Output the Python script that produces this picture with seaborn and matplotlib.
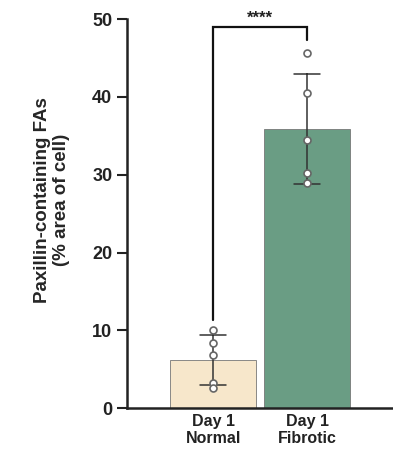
import pandas as pd
import numpy as np
import matplotlib
matplotlib.use('Agg')
import matplotlib.pyplot as plt
import seaborn as sns

# Values (per-cell points)
normal_vals = [10.0, 8.4, 6.8, 3.2, 2.6]
fibrotic_vals = [45.6, 40.5, 34.4, 30.2, 28.9]
groups = ['Day 1\nNormal', 'Day 1\nFibrotic']
bar_colors = ['#f7e7cb', '#6a9d84']
yticks = [0, 10, 20, 30, 40, 50]
sig_label = '****'

df = pd.DataFrame({
    'group': [groups[0]] * len(normal_vals) + [groups[1]] * len(fibrotic_vals),
    'value': normal_vals + fibrotic_vals,
})

sns.set_style('ticks')
plt.rcParams['font.family'] = ['Liberation Sans', 'DejaVu Sans']
plt.rcParams['font.weight'] = 'bold'

fig = plt.figure(figsize=(3.93, 4.55), dpi=100)
ax = fig.add_axes([0.323, 0.103, 0.677, 0.855])

sns.barplot(data=df, x='group', y='value', hue='group', palette=bar_colors,
            order=groups, hue_order=groups, legend=False, saturation=1,
            errorbar='sd', capsize=0.28, width=0.91,
            err_kws={'color': '#333333', 'linewidth': 1.1},
            edgecolor='#777777', linewidth=0.6, ax=ax)
sns.stripplot(data=df, x='group', y='value', order=groups, jitter=False,
              marker='o', size=5, color='white', edgecolor='#666666',
              linewidth=1.2, ax=ax, zorder=5)

ax.set_xlim(-0.915, 1.91)
ax.set_ylim(0, 50)
ax.set_yticks(yticks)
ax.set_xlabel('')
ax.set_ylabel('Paxillin-containing FAs\n(% area of cell)', fontsize=13.5,
              fontweight='bold', linespacing=1.1)
ax.yaxis.set_label_coords(-0.215, 0.535)
ax.tick_params(axis='y', labelsize=13, width=1.5, length=7, color='#222222')
ax.tick_params(axis='x', labelsize=11.5, length=0, pad=4)
for lab in ax.get_xticklabels() + ax.get_yticklabels():
    lab.set_fontweight('bold')
    lab.set_color('#222222')
sns.despine(ax=ax)
for side in ['left', 'bottom']:
    ax.spines[side].set_linewidth(1.8)
    ax.spines[side].set_color('#222222')

# significance bracket
ax.plot([0, 0, 1, 1], [11.3, 49.0, 49.0, 47.3], color='#111111',
        linewidth=1.6, clip_on=False, solid_joinstyle='miter')
ax.text(0.5, 49.2, sig_label, ha='center', va='bottom', fontsize=12,
        fontweight='bold', color='#222222')

fig.savefig('out.png', dpi=100)
